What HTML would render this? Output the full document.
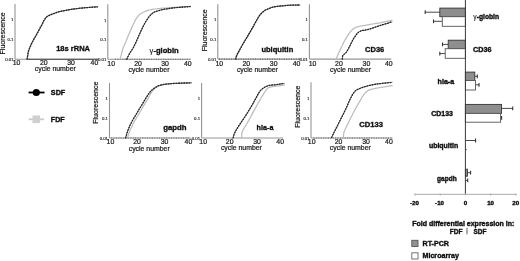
<!DOCTYPE html>
<html><head><meta charset="utf-8"><style>
html,body{margin:0;padding:0;background:#fff;width:520px;height:261px;overflow:hidden}
svg{display:block;will-change:transform}
text{font-family:"Liberation Sans", sans-serif}
</style></head><body>
<svg width="520" height="261" viewBox="0 0 520 261">
<defs><filter id="bl" x="0" y="0" width="1" height="1"><feGaussianBlur stdDeviation="0.35"/></filter></defs>
<rect width="520" height="261" fill="#fff"/>
<g filter="url(#bl)">
<rect width="520" height="261" fill="#fff"/>
<line x1="15.0" y1="4" x2="15.0" y2="59.2" stroke="#959595" stroke-width="1.1" />
<line x1="15.0" y1="59.2" x2="98.2" y2="59.2" stroke="#959595" stroke-width="1.1" />
<line x1="27" y1="59.2" x2="98.2" y2="59.2" stroke="#444" stroke-width="1.1" />
<text x="13.5" y="21.271428571428572" font-size="4.3" font-weight="normal" text-anchor="end" fill="#222" stroke="#222" stroke-width="0.15">1</text>
<text x="13.5" y="40.98571428571429" font-size="4.3" font-weight="normal" text-anchor="end" fill="#222" stroke="#222" stroke-width="0.15">0.1</text>
<text x="13.5" y="60.7" font-size="4.3" font-weight="normal" text-anchor="end" fill="#222" stroke="#222" stroke-width="0.15">0.01</text>
<text x="16.5" y="65.4" font-size="6.9" font-weight="normal" text-anchor="middle" fill="#1a1a1a" stroke="#1a1a1a" stroke-width="0.22">10</text>
<text x="43.8" y="65.4" font-size="6.9" font-weight="normal" text-anchor="middle" fill="#1a1a1a" stroke="#1a1a1a" stroke-width="0.22">20</text>
<text x="71" y="65.4" font-size="6.9" font-weight="normal" text-anchor="middle" fill="#1a1a1a" stroke="#1a1a1a" stroke-width="0.22">30</text>
<text x="94.4" y="65.4" font-size="6.9" font-weight="normal" text-anchor="middle" fill="#1a1a1a" stroke="#1a1a1a" stroke-width="0.22">40</text>
<text x="55.3" y="71.3" font-size="6.9" font-weight="normal" text-anchor="middle" fill="#1a1a1a" stroke="#1a1a1a" stroke-width="0.22">cycle number</text>
<text x="56.2" y="51.4" font-size="8.0" font-weight="bold" text-anchor="start" fill="#111" stroke="#111" stroke-width="0.35" textLength="33.8" lengthAdjust="spacingAndGlyphs">18s rRNA</text>
<text x="0" y="0" font-size="7.0" fill="#1a1a1a" stroke="#1a1a1a" stroke-width="0.22" text-anchor="middle" transform="translate(5.0,33.4) rotate(-90)">Fluorescence</text>
<polyline points="27.1,59.0 27.2,58.6 27.3,58.0 27.4,57.3 27.5,56.5 27.7,55.7 27.8,55.0 27.9,54.3 28.0,53.7 28.1,53.1 28.2,52.4 28.3,51.7 28.6,50.8 29.0,49.8 29.4,48.6 29.9,47.3 30.5,46.0 31.0,44.7 31.6,43.5 32.2,42.3 32.8,41.2 33.4,40.1 34.0,38.9 34.7,37.8 35.3,36.7 35.9,35.6 36.6,34.4 37.2,33.2 37.9,32.1 38.5,31.0 39.0,30.0 39.5,29.2 39.9,28.4 40.2,27.8 40.6,27.1 41.0,26.4 41.5,25.5 42.1,24.4 42.7,23.2 43.3,21.8 44.0,20.5 44.7,19.4 45.3,18.4 45.9,17.7 46.4,17.1 46.9,16.7 47.4,16.3 48.0,16.0 48.7,15.6 49.5,15.2 50.5,14.8 51.5,14.4 52.5,14.0 53.5,13.6 54.5,13.3 55.4,13.0 56.2,12.7 57.0,12.4 57.8,12.1 58.8,11.8 60.0,11.5 61.4,11.2 63.0,10.9 64.8,10.5 66.6,10.2 68.3,9.9 70.0,9.6 71.6,9.3 73.1,9.1 74.7,8.9 76.2,8.7 77.7,8.5 79.2,8.3 80.7,8.1 82.1,8.0 83.6,7.9 85.0,7.7 86.5,7.6 88.0,7.5 89.6,7.4 91.4,7.2 93.2,7.1 94.9,7.0 96.4,6.9 97.4,6.8" fill="none" stroke="#bcbcbc" stroke-width="1.25" stroke-linejoin="round" stroke-linecap="round" />
<polyline points="27.1,59.0 27.2,58.6 27.3,58.0 27.4,57.3 27.5,56.5 27.7,55.7 27.8,55.0 27.9,54.3 28.0,53.7 28.1,53.1 28.2,52.4 28.3,51.7 28.6,50.8 29.0,49.8 29.4,48.6 29.9,47.3 30.5,46.0 31.0,44.7 31.6,43.5 32.2,42.3 32.8,41.2 33.4,40.1 34.0,38.9 34.7,37.8 35.3,36.7 35.9,35.6 36.6,34.4 37.2,33.2 37.9,32.1 38.5,31.0 39.0,30.0 39.5,29.2 39.9,28.4 40.2,27.8 40.6,27.1 41.0,26.4 41.5,25.5 42.1,24.4 42.7,23.2 43.3,21.8 44.0,20.5 44.7,19.4 45.3,18.4 45.9,17.7 46.4,17.1 46.9,16.7 47.4,16.3 48.0,16.0 48.7,15.6 49.5,15.2 50.5,14.8 51.5,14.4 52.5,14.0 53.5,13.6 54.5,13.3 55.4,13.0 56.2,12.7 57.0,12.4 57.8,12.1 58.8,11.8 60.0,11.5 61.4,11.2 63.0,10.9 64.8,10.5 66.6,10.2 68.3,9.9 70.0,9.6 71.6,9.3 73.1,9.1 74.7,8.9 76.2,8.7 77.7,8.5 79.2,8.3 80.7,8.1 82.1,8.0 83.6,7.9 85.0,7.7 86.5,7.6 88.0,7.5 89.6,7.4 91.4,7.2 93.2,7.1 94.9,7.0 96.4,6.9 97.4,6.8" fill="none" stroke="#6a6a6a" stroke-width="0.85" stroke-linejoin="round" stroke-linecap="round" />
<polyline points="27.1,59.0 27.2,58.6 27.3,58.0 27.4,57.3 27.5,56.5 27.7,55.7 27.8,55.0 27.9,54.3 28.0,53.7 28.1,53.1 28.2,52.4 28.3,51.7 28.6,50.8 29.0,49.8 29.4,48.6 29.9,47.3 30.5,46.0 31.0,44.7 31.6,43.5 32.2,42.3 32.8,41.2 33.4,40.1 34.0,38.9 34.7,37.8 35.3,36.7 35.9,35.6 36.6,34.4 37.2,33.2 37.9,32.1 38.5,31.0 39.0,30.0 39.5,29.2 39.9,28.4 40.2,27.8 40.6,27.1 41.0,26.4 41.5,25.5 42.1,24.4 42.7,23.2 43.3,21.8 44.0,20.5 44.7,19.4 45.3,18.4 45.9,17.7 46.4,17.1 46.9,16.7 47.4,16.3 48.0,16.0 48.7,15.6 49.5,15.2 50.5,14.8 51.5,14.4 52.5,14.0 53.5,13.6 54.5,13.3 55.4,13.0 56.2,12.7 57.0,12.4 57.8,12.1 58.8,11.8 60.0,11.5 61.4,11.2 63.0,10.9 64.8,10.5 66.6,10.2 68.3,9.9 70.0,9.6 71.6,9.3 73.1,9.1 74.7,8.9 76.2,8.7 77.7,8.5 79.2,8.3 80.7,8.1 82.1,8.0 83.6,7.9 85.0,7.7 86.5,7.6 88.0,7.5 89.6,7.4 91.4,7.2 93.2,7.1 94.9,7.0 96.4,6.9 97.4,6.8" fill="none" stroke="#222" stroke-width="1.3" stroke-linejoin="round" stroke-linecap="round" stroke-dasharray="0.8 1.8"/>
<line x1="107.8" y1="4.3" x2="107.8" y2="59.3" stroke="#959595" stroke-width="1.1" />
<line x1="107.8" y1="59.3" x2="190.5" y2="59.3" stroke="#959595" stroke-width="1.1" />
<line x1="115" y1="59.3" x2="190.5" y2="59.3" stroke="#666" stroke-width="1.1" stroke-dasharray="1.1 1.3"/>
<text x="106.3" y="21.514285714285712" font-size="4.3" font-weight="normal" text-anchor="end" fill="#222" stroke="#222" stroke-width="0.15">1</text>
<text x="106.3" y="41.15714285714286" font-size="4.3" font-weight="normal" text-anchor="end" fill="#222" stroke="#222" stroke-width="0.15">0.1</text>
<text x="106.3" y="60.8" font-size="4.3" font-weight="normal" text-anchor="end" fill="#222" stroke="#222" stroke-width="0.15">0.01</text>
<text x="111.2" y="66.2" font-size="6.9" font-weight="normal" text-anchor="middle" fill="#1a1a1a" stroke="#1a1a1a" stroke-width="0.22">10</text>
<text x="138" y="66.2" font-size="6.9" font-weight="normal" text-anchor="middle" fill="#1a1a1a" stroke="#1a1a1a" stroke-width="0.22">20</text>
<text x="165" y="66.2" font-size="6.9" font-weight="normal" text-anchor="middle" fill="#1a1a1a" stroke="#1a1a1a" stroke-width="0.22">30</text>
<text x="187.8" y="66.2" font-size="6.9" font-weight="normal" text-anchor="middle" fill="#1a1a1a" stroke="#1a1a1a" stroke-width="0.22">40</text>
<text x="149" y="72.2" font-size="6.9" font-weight="normal" text-anchor="middle" fill="#1a1a1a" stroke="#1a1a1a" stroke-width="0.22">cycle number</text>
<text x="149.6" y="52.5" font-size="8.0" font-weight="bold" text-anchor="start" fill="#111" stroke="#111" stroke-width="0.35" textLength="29.1" lengthAdjust="spacingAndGlyphs"><tspan font-weight="normal" stroke-width="0.1">γ</tspan>-globin</text>
<polyline points="120.1,59.0 120.2,58.5 120.5,57.7 120.7,56.9 121.0,55.9 121.2,54.9 121.5,54.0 121.7,53.0 122.0,52.0 122.2,51.0 122.5,50.0 122.8,49.0 123.1,48.0 123.4,47.2 123.7,46.4 124.1,45.7 124.4,45.0 124.8,44.1 125.3,43.0 125.8,41.7 126.5,40.2 127.1,38.5 127.8,36.8 128.5,35.1 129.2,33.5 129.9,31.9 130.6,30.3 131.3,28.6 132.0,27.0 132.7,25.5 133.4,24.0 134.1,22.6 134.8,21.2 135.5,19.9 136.2,18.7 136.9,17.6 137.6,16.6 138.3,15.8 139.0,15.1 139.6,14.5 140.3,14.0 141.1,13.5 141.9,13.0 142.8,12.5 143.8,12.0 144.8,11.5 145.9,11.1 147.0,10.7 148.2,10.3 149.5,10.0 150.9,9.7 152.3,9.4 153.8,9.2 155.2,9.0 156.6,8.8 157.8,8.6 159.0,8.5 160.1,8.4 161.2,8.3 162.5,8.2 164.0,8.1 165.7,8.0 167.6,7.8 169.6,7.7 171.7,7.6 173.8,7.4 176.0,7.3 178.4,7.2 181.1,7.0 183.8,6.9 186.4,6.7 188.6,6.6 190.2,6.5" fill="none" stroke="#bcbcbc" stroke-width="1.25" stroke-linejoin="round" stroke-linecap="round" />
<polyline points="126.7,59.0 126.9,58.6 127.2,58.1 127.5,57.4 127.8,56.8 128.2,56.1 128.5,55.5 128.8,55.0 129.1,54.5 129.3,54.0 129.6,53.6 129.9,53.0 130.3,52.4 130.7,51.7 131.2,51.0 131.8,50.2 132.3,49.3 132.9,48.4 133.4,47.5 133.9,46.5 134.4,45.5 134.9,44.4 135.5,43.3 136.0,42.1 136.6,40.8 137.2,39.4 137.9,37.8 138.6,36.2 139.4,34.5 140.1,32.9 140.8,31.3 141.5,29.8 142.2,28.3 142.9,26.9 143.6,25.5 144.3,24.2 145.0,22.9 145.7,21.7 146.4,20.6 147.1,19.5 147.8,18.5 148.5,17.5 149.2,16.6 149.9,15.8 150.6,15.0 151.3,14.3 152.0,13.7 152.7,13.1 153.5,12.6 154.3,12.1 155.1,11.8 156.0,11.4 156.9,11.1 157.8,10.9 158.7,10.6 159.6,10.3 160.4,10.1 161.3,9.9 162.3,9.7 163.4,9.4 164.7,9.2 166.2,8.9 168.0,8.7 169.8,8.4 171.8,8.1 173.9,7.8 176.0,7.6 178.4,7.4 181.0,7.2 183.8,6.9 186.4,6.8 188.6,6.6 190.2,6.5" fill="none" stroke="#6a6a6a" stroke-width="0.85" stroke-linejoin="round" stroke-linecap="round" />
<polyline points="126.7,59.0 126.9,58.6 127.2,58.1 127.5,57.4 127.8,56.8 128.2,56.1 128.5,55.5 128.8,55.0 129.1,54.5 129.3,54.0 129.6,53.6 129.9,53.0 130.3,52.4 130.7,51.7 131.2,51.0 131.8,50.2 132.3,49.3 132.9,48.4 133.4,47.5 133.9,46.5 134.4,45.5 134.9,44.4 135.5,43.3 136.0,42.1 136.6,40.8 137.2,39.4 137.9,37.8 138.6,36.2 139.4,34.5 140.1,32.9 140.8,31.3 141.5,29.8 142.2,28.3 142.9,26.9 143.6,25.5 144.3,24.2 145.0,22.9 145.7,21.7 146.4,20.6 147.1,19.5 147.8,18.5 148.5,17.5 149.2,16.6 149.9,15.8 150.6,15.0 151.3,14.3 152.0,13.7 152.7,13.1 153.5,12.6 154.3,12.1 155.1,11.8 156.0,11.4 156.9,11.1 157.8,10.9 158.7,10.6 159.6,10.3 160.4,10.1 161.3,9.9 162.3,9.7 163.4,9.4 164.7,9.2 166.2,8.9 168.0,8.7 169.8,8.4 171.8,8.1 173.9,7.8 176.0,7.6 178.4,7.4 181.0,7.2 183.8,6.9 186.4,6.8 188.6,6.6 190.2,6.5" fill="none" stroke="#222" stroke-width="1.3" stroke-linejoin="round" stroke-linecap="round" stroke-dasharray="0.8 1.8"/>
<line x1="217.8" y1="4.2" x2="217.8" y2="59.1" stroke="#959595" stroke-width="1.1" />
<line x1="217.8" y1="59.1" x2="300.8" y2="59.1" stroke="#959595" stroke-width="1.1" />
<line x1="219" y1="59.1" x2="300.8" y2="59.1" stroke="#666" stroke-width="1.1" stroke-dasharray="1.1 1.3"/>
<text x="216.3" y="21.385714285714286" font-size="4.3" font-weight="normal" text-anchor="end" fill="#222" stroke="#222" stroke-width="0.15">1</text>
<text x="216.3" y="40.99285714285715" font-size="4.3" font-weight="normal" text-anchor="end" fill="#222" stroke="#222" stroke-width="0.15">0.1</text>
<text x="216.3" y="60.6" font-size="4.3" font-weight="normal" text-anchor="end" fill="#222" stroke="#222" stroke-width="0.15">0.01</text>
<text x="219.3" y="66.2" font-size="6.9" font-weight="normal" text-anchor="middle" fill="#1a1a1a" stroke="#1a1a1a" stroke-width="0.22">10</text>
<text x="246.3" y="66.2" font-size="6.9" font-weight="normal" text-anchor="middle" fill="#1a1a1a" stroke="#1a1a1a" stroke-width="0.22">20</text>
<text x="273.7" y="66.2" font-size="6.9" font-weight="normal" text-anchor="middle" fill="#1a1a1a" stroke="#1a1a1a" stroke-width="0.22">30</text>
<text x="296.6" y="66.2" font-size="6.9" font-weight="normal" text-anchor="middle" fill="#1a1a1a" stroke="#1a1a1a" stroke-width="0.22">40</text>
<text x="257.4" y="72.4" font-size="6.9" font-weight="normal" text-anchor="middle" fill="#1a1a1a" stroke="#1a1a1a" stroke-width="0.22">cycle number</text>
<text x="261.4" y="52.4" font-size="8.0" font-weight="bold" text-anchor="start" fill="#111" stroke="#111" stroke-width="0.35" textLength="31.9" lengthAdjust="spacingAndGlyphs">ubiquitin</text>
<text x="0" y="0" font-size="7.0" fill="#1a1a1a" stroke="#1a1a1a" stroke-width="0.22" text-anchor="middle" transform="translate(206.9,30.25) rotate(-90)">Fluorescence</text>
<polyline points="235.7,59.0 235.8,58.7 235.9,58.2 236.0,57.7 236.2,57.1 236.3,56.5 236.5,56.0 236.7,55.6 236.8,55.2 236.9,54.9 237.2,54.5 237.5,53.8 238.0,52.9 238.7,51.6 239.6,50.0 240.6,48.2 241.6,46.3 242.7,44.4 243.8,42.5 244.9,40.6 246.1,38.7 247.3,36.7 248.4,34.8 249.6,32.9 250.7,31.0 251.7,29.2 252.8,27.3 253.8,25.5 254.7,23.7 255.6,22.1 256.4,20.7 257.1,19.5 257.7,18.4 258.2,17.5 258.7,16.6 259.3,15.8 259.9,15.0 260.6,14.2 261.3,13.4 262.0,12.7 262.8,12.0 263.6,11.4 264.3,10.8 265.0,10.3 265.7,9.9 266.5,9.6 267.2,9.3 267.9,9.0 268.7,8.7 269.5,8.4 270.2,8.0 271.0,7.7 271.9,7.4 272.8,7.2 273.8,6.9 274.9,6.7 276.2,6.5 277.5,6.3 278.8,6.2 280.2,6.0 281.6,5.9 283.0,5.8 284.4,5.6 285.8,5.5 287.3,5.4 288.8,5.3 290.3,5.2 291.9,5.1 293.8,5.1 295.6,5.1 297.3,5.0 298.8,5.0 299.8,5.0" fill="none" stroke="#bcbcbc" stroke-width="1.25" stroke-linejoin="round" stroke-linecap="round" />
<polyline points="235.7,59.0 235.8,58.7 235.9,58.2 236.0,57.7 236.2,57.1 236.3,56.5 236.5,56.0 236.7,55.6 236.8,55.2 236.9,54.9 237.2,54.5 237.5,53.8 238.0,52.9 238.7,51.6 239.6,50.0 240.6,48.2 241.6,46.3 242.7,44.4 243.8,42.5 244.9,40.6 246.1,38.7 247.3,36.7 248.4,34.8 249.6,32.9 250.7,31.0 251.7,29.2 252.8,27.3 253.8,25.5 254.7,23.7 255.6,22.1 256.4,20.7 257.1,19.5 257.7,18.4 258.2,17.5 258.7,16.6 259.3,15.8 259.9,15.0 260.6,14.2 261.3,13.4 262.0,12.7 262.8,12.0 263.6,11.4 264.3,10.8 265.0,10.3 265.7,9.9 266.5,9.6 267.2,9.3 267.9,9.0 268.7,8.7 269.5,8.4 270.2,8.0 271.0,7.7 271.9,7.4 272.8,7.2 273.8,6.9 274.9,6.7 276.2,6.5 277.5,6.3 278.8,6.2 280.2,6.0 281.6,5.9 283.0,5.8 284.4,5.6 285.8,5.5 287.3,5.4 288.8,5.3 290.3,5.2 291.9,5.1 293.8,5.1 295.6,5.1 297.3,5.0 298.8,5.0 299.8,5.0" fill="none" stroke="#6a6a6a" stroke-width="0.85" stroke-linejoin="round" stroke-linecap="round" />
<polyline points="235.7,59.0 235.8,58.7 235.9,58.2 236.0,57.7 236.2,57.1 236.3,56.5 236.5,56.0 236.7,55.6 236.8,55.2 236.9,54.9 237.2,54.5 237.5,53.8 238.0,52.9 238.7,51.6 239.6,50.0 240.6,48.2 241.6,46.3 242.7,44.4 243.8,42.5 244.9,40.6 246.1,38.7 247.3,36.7 248.4,34.8 249.6,32.9 250.7,31.0 251.7,29.2 252.8,27.3 253.8,25.5 254.7,23.7 255.6,22.1 256.4,20.7 257.1,19.5 257.7,18.4 258.2,17.5 258.7,16.6 259.3,15.8 259.9,15.0 260.6,14.2 261.3,13.4 262.0,12.7 262.8,12.0 263.6,11.4 264.3,10.8 265.0,10.3 265.7,9.9 266.5,9.6 267.2,9.3 267.9,9.0 268.7,8.7 269.5,8.4 270.2,8.0 271.0,7.7 271.9,7.4 272.8,7.2 273.8,6.9 274.9,6.7 276.2,6.5 277.5,6.3 278.8,6.2 280.2,6.0 281.6,5.9 283.0,5.8 284.4,5.6 285.8,5.5 287.3,5.4 288.8,5.3 290.3,5.2 291.9,5.1 293.8,5.1 295.6,5.1 297.3,5.0 298.8,5.0 299.8,5.0" fill="none" stroke="#222" stroke-width="1.3" stroke-linejoin="round" stroke-linecap="round" stroke-dasharray="0.8 1.8"/>
<line x1="309.4" y1="4.2" x2="309.4" y2="59.1" stroke="#959595" stroke-width="1.1" />
<line x1="309.4" y1="59.1" x2="391.3" y2="59.1" stroke="#959595" stroke-width="1.1" />
<text x="307.9" y="21.385714285714286" font-size="4.3" font-weight="normal" text-anchor="end" fill="#222" stroke="#222" stroke-width="0.15">1</text>
<text x="307.9" y="40.99285714285715" font-size="4.3" font-weight="normal" text-anchor="end" fill="#222" stroke="#222" stroke-width="0.15">0.1</text>
<text x="307.9" y="60.6" font-size="4.3" font-weight="normal" text-anchor="end" fill="#222" stroke="#222" stroke-width="0.15">0.01</text>
<text x="312.5" y="66.2" font-size="6.9" font-weight="normal" text-anchor="middle" fill="#1a1a1a" stroke="#1a1a1a" stroke-width="0.22">10</text>
<text x="338.9" y="66.2" font-size="6.9" font-weight="normal" text-anchor="middle" fill="#1a1a1a" stroke="#1a1a1a" stroke-width="0.22">20</text>
<text x="366.4" y="66.2" font-size="6.9" font-weight="normal" text-anchor="middle" fill="#1a1a1a" stroke="#1a1a1a" stroke-width="0.22">30</text>
<text x="388.8" y="66.2" font-size="6.9" font-weight="normal" text-anchor="middle" fill="#1a1a1a" stroke="#1a1a1a" stroke-width="0.22">40</text>
<text x="350.6" y="72.4" font-size="6.9" font-weight="normal" text-anchor="middle" fill="#1a1a1a" stroke="#1a1a1a" stroke-width="0.22">cycle number</text>
<text x="365.1" y="51.5" font-size="8.0" font-weight="bold" text-anchor="start" fill="#111" stroke="#111" stroke-width="0.35" textLength="19.2" lengthAdjust="spacingAndGlyphs">CD36</text>
<polyline points="336.0,59.0 336.5,58.0 337.1,56.6 337.8,54.9 338.6,53.1 339.5,51.2 340.3,49.5 341.1,47.8 342.0,46.0 342.8,44.2 343.7,42.4 344.6,40.7 345.5,39.1 346.4,37.6 347.3,36.2 348.2,34.8 349.0,33.6 349.9,32.4 350.7,31.4 351.5,30.6 352.2,29.9 352.9,29.3 353.5,28.8 354.2,28.3 355.0,27.9 355.8,27.5 356.5,27.2 357.3,26.9 358.1,26.7 359.1,26.5 360.2,26.2 361.5,25.9 363.0,25.6 364.6,25.4 366.3,25.1 368.0,24.8 369.7,24.5 371.4,24.2 373.0,24.0 374.7,23.7 376.4,23.4 378.2,23.1 380.0,22.8 382.0,22.4 384.3,21.9 386.6,21.4 388.8,20.9 390.7,20.5 392.0,20.2" fill="none" stroke="#bcbcbc" stroke-width="1.25" stroke-linejoin="round" stroke-linecap="round" />
<polyline points="342.4,59.0 342.4,58.6 342.4,58.1 342.4,57.5 342.5,56.8 342.6,56.1 342.9,55.5 343.3,55.0 343.8,54.5 344.5,54.0 345.1,53.4 345.8,52.8 346.4,52.1 347.0,51.2 347.5,50.3 348.1,49.3 348.7,48.2 349.2,47.1 349.8,46.0 350.4,44.9 350.9,43.7 351.5,42.5 352.1,41.4 352.7,40.2 353.3,39.1 354.0,38.0 354.7,36.9 355.5,35.8 356.2,34.8 356.9,33.9 357.6,33.1 358.2,32.5 358.7,32.0 359.2,31.7 359.7,31.4 360.3,31.2 361.0,30.9 361.9,30.6 362.8,30.4 363.9,30.3 365.0,30.1 366.1,29.9 367.1,29.7 368.1,29.4 369.0,29.2 369.9,28.9 370.9,28.6 372.0,28.3 373.1,27.9 374.4,27.5 375.7,27.0 377.1,26.5 378.6,26.0 380.1,25.5 381.7,25.0 383.4,24.5 385.4,23.9 387.4,23.3 389.3,22.7 390.9,22.2 392.0,21.9" fill="none" stroke="#6a6a6a" stroke-width="0.85" stroke-linejoin="round" stroke-linecap="round" />
<polyline points="342.4,59.0 342.4,58.6 342.4,58.1 342.4,57.5 342.5,56.8 342.6,56.1 342.9,55.5 343.3,55.0 343.8,54.5 344.5,54.0 345.1,53.4 345.8,52.8 346.4,52.1 347.0,51.2 347.5,50.3 348.1,49.3 348.7,48.2 349.2,47.1 349.8,46.0 350.4,44.9 350.9,43.7 351.5,42.5 352.1,41.4 352.7,40.2 353.3,39.1 354.0,38.0 354.7,36.9 355.5,35.8 356.2,34.8 356.9,33.9 357.6,33.1 358.2,32.5 358.7,32.0 359.2,31.7 359.7,31.4 360.3,31.2 361.0,30.9 361.9,30.6 362.8,30.4 363.9,30.3 365.0,30.1 366.1,29.9 367.1,29.7 368.1,29.4 369.0,29.2 369.9,28.9 370.9,28.6 372.0,28.3 373.1,27.9 374.4,27.5 375.7,27.0 377.1,26.5 378.6,26.0 380.1,25.5 381.7,25.0 383.4,24.5 385.4,23.9 387.4,23.3 389.3,22.7 390.9,22.2 392.0,21.9" fill="none" stroke="#222" stroke-width="1.3" stroke-linejoin="round" stroke-linecap="round" stroke-dasharray="0.8 1.8"/>
<line x1="109.5" y1="83" x2="109.5" y2="138.0" stroke="#959595" stroke-width="1.1" />
<line x1="109.5" y1="138.0" x2="190.5" y2="138.0" stroke="#959595" stroke-width="1.1" />
<line x1="111" y1="138.0" x2="190.5" y2="138.0" stroke="#666" stroke-width="1.1" stroke-dasharray="1.1 1.3"/>
<text x="108.0" y="100.21428571428572" font-size="4.3" font-weight="normal" text-anchor="end" fill="#222" stroke="#222" stroke-width="0.15">1</text>
<text x="108.0" y="119.85714285714286" font-size="4.3" font-weight="normal" text-anchor="end" fill="#222" stroke="#222" stroke-width="0.15">0.1</text>
<text x="108.0" y="139.5" font-size="4.3" font-weight="normal" text-anchor="end" fill="#222" stroke="#222" stroke-width="0.15">0.01</text>
<text x="110.4" y="144.3" font-size="6.9" font-weight="normal" text-anchor="middle" fill="#1a1a1a" stroke="#1a1a1a" stroke-width="0.22">10</text>
<text x="137.1" y="144.3" font-size="6.9" font-weight="normal" text-anchor="middle" fill="#1a1a1a" stroke="#1a1a1a" stroke-width="0.22">20</text>
<text x="164.6" y="144.3" font-size="6.9" font-weight="normal" text-anchor="middle" fill="#1a1a1a" stroke="#1a1a1a" stroke-width="0.22">30</text>
<text x="188.4" y="144.3" font-size="6.9" font-weight="normal" text-anchor="middle" fill="#1a1a1a" stroke="#1a1a1a" stroke-width="0.22">40</text>
<text x="149.2" y="150.5" font-size="6.9" font-weight="normal" text-anchor="middle" fill="#1a1a1a" stroke="#1a1a1a" stroke-width="0.22">cycle number</text>
<text x="163.2" y="129.8" font-size="8.0" font-weight="bold" text-anchor="start" fill="#111" stroke="#111" stroke-width="0.35" textLength="23.4" lengthAdjust="spacingAndGlyphs">gapdh</text>
<text x="0" y="0" font-size="7.0" fill="#1a1a1a" stroke="#1a1a1a" stroke-width="0.22" text-anchor="middle" transform="translate(98.3,102.7) rotate(-90)">Fluorescence</text>
<polyline points="127.6,137.8 127.7,137.3 127.9,136.6 128.1,135.8 128.4,134.9 128.7,133.9 129.0,133.0 129.3,132.1 129.7,131.1 130.1,130.2 130.6,129.2 131.0,128.1 131.5,127.1 132.0,126.0 132.6,124.9 133.1,123.8 133.7,122.7 134.3,121.6 134.9,120.5 135.5,119.5 136.1,118.4 136.7,117.4 137.3,116.5 137.9,115.5 138.5,114.5 139.1,113.5 139.6,112.5 140.2,111.6 140.8,110.6 141.3,109.7 141.9,108.7 142.5,107.7 143.1,106.8 143.6,105.8 144.2,104.8 144.8,103.9 145.3,103.0 145.8,102.1 146.3,101.3 146.8,100.4 147.3,99.6 147.8,98.8 148.2,98.0 148.6,97.2 149.0,96.5 149.4,95.8 149.7,95.1 150.1,94.5 150.5,93.8 150.9,93.1 151.4,92.5 151.8,91.8 152.3,91.2 152.8,90.6 153.3,90.0 153.9,89.4 154.5,88.9 155.1,88.3 155.8,87.8 156.4,87.3 157.0,86.9 157.5,86.6 157.9,86.3 158.3,86.0 158.7,85.8 159.3,85.6 160.0,85.4 160.9,85.2 161.8,84.9 162.9,84.7 164.1,84.4 165.4,84.2 167.0,84.0 168.8,83.8 170.9,83.7 173.2,83.5 175.6,83.4 177.9,83.3 180.0,83.2 182.1,83.1 184.4,83.0 186.6,83.0 188.6,82.9 190.3,82.8 191.5,82.8" fill="none" stroke="#bcbcbc" stroke-width="1.25" stroke-linejoin="round" stroke-linecap="round" />
<polyline points="125.7,137.8 125.8,137.3 126.0,136.6 126.2,135.8 126.5,134.9 126.7,133.9 127.0,133.0 127.3,132.1 127.6,131.1 128.0,130.2 128.4,129.2 128.8,128.1 129.2,127.1 129.7,126.0 130.2,124.9 130.8,123.8 131.3,122.7 131.9,121.6 132.5,120.5 133.1,119.5 133.7,118.4 134.3,117.4 134.9,116.5 135.5,115.5 136.1,114.5 136.7,113.5 137.2,112.5 137.8,111.6 138.4,110.6 138.9,109.7 139.5,108.7 140.1,107.7 140.7,106.8 141.3,105.8 141.9,104.8 142.4,103.9 143.0,103.0 143.5,102.1 144.0,101.3 144.5,100.4 145.0,99.6 145.5,98.8 146.0,98.0 146.5,97.3 146.9,96.5 147.3,95.8 147.8,95.2 148.2,94.5 148.7,93.8 149.2,93.1 149.8,92.4 150.3,91.7 150.9,91.0 151.5,90.3 152.2,89.7 152.9,89.1 153.7,88.5 154.5,88.0 155.3,87.5 156.1,87.0 156.8,86.6 157.4,86.3 157.8,86.0 158.2,85.8 158.7,85.7 159.3,85.5 160.0,85.3 160.9,85.1 161.8,84.8 162.9,84.6 164.1,84.4 165.4,84.2 167.0,84.0 168.8,83.8 170.9,83.7 173.2,83.5 175.6,83.4 177.9,83.3 180.0,83.2 182.1,83.1 184.4,83.0 186.6,83.0 188.6,82.9 190.3,82.8 191.5,82.8" fill="none" stroke="#6a6a6a" stroke-width="0.85" stroke-linejoin="round" stroke-linecap="round" />
<polyline points="125.7,137.8 125.8,137.3 126.0,136.6 126.2,135.8 126.5,134.9 126.7,133.9 127.0,133.0 127.3,132.1 127.6,131.1 128.0,130.2 128.4,129.2 128.8,128.1 129.2,127.1 129.7,126.0 130.2,124.9 130.8,123.8 131.3,122.7 131.9,121.6 132.5,120.5 133.1,119.5 133.7,118.4 134.3,117.4 134.9,116.5 135.5,115.5 136.1,114.5 136.7,113.5 137.2,112.5 137.8,111.6 138.4,110.6 138.9,109.7 139.5,108.7 140.1,107.7 140.7,106.8 141.3,105.8 141.9,104.8 142.4,103.9 143.0,103.0 143.5,102.1 144.0,101.3 144.5,100.4 145.0,99.6 145.5,98.8 146.0,98.0 146.5,97.3 146.9,96.5 147.3,95.8 147.8,95.2 148.2,94.5 148.7,93.8 149.2,93.1 149.8,92.4 150.3,91.7 150.9,91.0 151.5,90.3 152.2,89.7 152.9,89.1 153.7,88.5 154.5,88.0 155.3,87.5 156.1,87.0 156.8,86.6 157.4,86.3 157.8,86.0 158.2,85.8 158.7,85.7 159.3,85.5 160.0,85.3 160.9,85.1 161.8,84.8 162.9,84.6 164.1,84.4 165.4,84.2 167.0,84.0 168.8,83.8 170.9,83.7 173.2,83.5 175.6,83.4 177.9,83.3 180.0,83.2 182.1,83.1 184.4,83.0 186.6,83.0 188.6,82.9 190.3,82.8 191.5,82.8" fill="none" stroke="#222" stroke-width="1.3" stroke-linejoin="round" stroke-linecap="round" stroke-dasharray="0.8 1.8"/>
<line x1="201.6" y1="83" x2="201.6" y2="138.0" stroke="#959595" stroke-width="1.1" />
<line x1="201.6" y1="138.0" x2="283.1" y2="138.0" stroke="#959595" stroke-width="1.1" />
<text x="200.1" y="100.21428571428572" font-size="4.3" font-weight="normal" text-anchor="end" fill="#222" stroke="#222" stroke-width="0.15">1</text>
<text x="200.1" y="119.85714285714286" font-size="4.3" font-weight="normal" text-anchor="end" fill="#222" stroke="#222" stroke-width="0.15">0.1</text>
<text x="200.1" y="139.5" font-size="4.3" font-weight="normal" text-anchor="end" fill="#222" stroke="#222" stroke-width="0.15">0.01</text>
<text x="203.2" y="144.1" font-size="6.9" font-weight="normal" text-anchor="middle" fill="#1a1a1a" stroke="#1a1a1a" stroke-width="0.22">10</text>
<text x="229.7" y="144.1" font-size="6.9" font-weight="normal" text-anchor="middle" fill="#1a1a1a" stroke="#1a1a1a" stroke-width="0.22">20</text>
<text x="257" y="144.1" font-size="6.9" font-weight="normal" text-anchor="middle" fill="#1a1a1a" stroke="#1a1a1a" stroke-width="0.22">30</text>
<text x="280.2" y="144.1" font-size="6.9" font-weight="normal" text-anchor="middle" fill="#1a1a1a" stroke="#1a1a1a" stroke-width="0.22">40</text>
<text x="241.4" y="149.8" font-size="6.9" font-weight="normal" text-anchor="middle" fill="#1a1a1a" stroke="#1a1a1a" stroke-width="0.22">cycle number</text>
<text x="256.6" y="130.4" font-size="8.0" font-weight="bold" text-anchor="start" fill="#111" stroke="#111" stroke-width="0.35" textLength="16.8" lengthAdjust="spacingAndGlyphs">hla-a</text>
<polyline points="241.8,137.8 241.8,137.2 241.8,136.3 241.7,135.3 241.8,134.2 241.9,133.0 242.3,131.7 242.9,130.4 243.6,129.0 244.5,127.5 245.5,125.9 246.5,124.3 247.5,122.5 248.6,120.6 249.7,118.5 250.9,116.3 252.1,114.1 253.3,111.9 254.4,109.9 255.4,108.0 256.4,106.2 257.4,104.5 258.3,102.8 259.3,101.1 260.2,99.5 261.2,97.8 262.2,96.1 263.2,94.4 264.2,92.9 265.1,91.5 265.9,90.3 266.6,89.4 267.1,88.8 267.6,88.3 268.1,88.0 268.6,87.7 269.4,87.4 270.3,87.1 271.4,86.9 272.6,86.7 273.8,86.5 275.0,86.4 276.3,86.2 277.7,86.0 279.2,85.8 280.7,85.6 282.2,85.4 283.4,85.2 284.3,85.1" fill="none" stroke="#bcbcbc" stroke-width="1.25" stroke-linejoin="round" stroke-linecap="round" />
<polyline points="233.1,137.8 233.3,137.2 233.5,136.5 233.7,135.6 234.0,134.6 234.4,133.5 234.9,132.4 235.5,131.3 236.1,130.1 236.9,128.9 237.7,127.6 238.6,126.2 239.5,124.8 240.5,123.3 241.6,121.6 242.8,119.9 244.0,118.1 245.2,116.3 246.4,114.5 247.6,112.6 248.7,110.7 249.9,108.8 251.1,106.8 252.2,104.9 253.3,103.0 254.3,101.1 255.4,99.2 256.4,97.3 257.3,95.5 258.2,93.9 259.0,92.6 259.7,91.6 260.2,90.8 260.8,90.2 261.3,89.7 261.8,89.2 262.5,88.7 263.3,88.1 264.1,87.6 265.1,87.0 266.0,86.5 267.1,86.1 268.2,85.7 269.4,85.4 270.7,85.2 272.1,85.0 273.5,84.9 274.9,84.8 276.3,84.6 277.7,84.4 279.3,84.2 280.8,83.9 282.2,83.7 283.4,83.5 284.3,83.4" fill="none" stroke="#6a6a6a" stroke-width="0.85" stroke-linejoin="round" stroke-linecap="round" />
<polyline points="233.1,137.8 233.3,137.2 233.5,136.5 233.7,135.6 234.0,134.6 234.4,133.5 234.9,132.4 235.5,131.3 236.1,130.1 236.9,128.9 237.7,127.6 238.6,126.2 239.5,124.8 240.5,123.3 241.6,121.6 242.8,119.9 244.0,118.1 245.2,116.3 246.4,114.5 247.6,112.6 248.7,110.7 249.9,108.8 251.1,106.8 252.2,104.9 253.3,103.0 254.3,101.1 255.4,99.2 256.4,97.3 257.3,95.5 258.2,93.9 259.0,92.6 259.7,91.6 260.2,90.8 260.8,90.2 261.3,89.7 261.8,89.2 262.5,88.7 263.3,88.1 264.1,87.6 265.1,87.0 266.0,86.5 267.1,86.1 268.2,85.7 269.4,85.4 270.7,85.2 272.1,85.0 273.5,84.9 274.9,84.8 276.3,84.6 277.7,84.4 279.3,84.2 280.8,83.9 282.2,83.7 283.4,83.5 284.3,83.4" fill="none" stroke="#222" stroke-width="1.3" stroke-linejoin="round" stroke-linecap="round" stroke-dasharray="0.8 1.8"/>
<line x1="311.0" y1="82.3" x2="311.0" y2="138.0" stroke="#959595" stroke-width="1.1" />
<line x1="311.0" y1="138.0" x2="392.6" y2="138.0" stroke="#959595" stroke-width="1.1" />
<line x1="313.5" y1="138.0" x2="392.6" y2="138.0" stroke="#666" stroke-width="1.1" stroke-dasharray="1.1 1.3"/>
<text x="309.5" y="99.71428571428571" font-size="4.3" font-weight="normal" text-anchor="end" fill="#222" stroke="#222" stroke-width="0.15">1</text>
<text x="309.5" y="119.60714285714286" font-size="4.3" font-weight="normal" text-anchor="end" fill="#222" stroke="#222" stroke-width="0.15">0.1</text>
<text x="309.5" y="139.5" font-size="4.3" font-weight="normal" text-anchor="end" fill="#222" stroke="#222" stroke-width="0.15">0.01</text>
<text x="311.7" y="144.4" font-size="6.9" font-weight="normal" text-anchor="middle" fill="#1a1a1a" stroke="#1a1a1a" stroke-width="0.22">10</text>
<text x="338.6" y="144.4" font-size="6.9" font-weight="normal" text-anchor="middle" fill="#1a1a1a" stroke="#1a1a1a" stroke-width="0.22">20</text>
<text x="366.1" y="144.4" font-size="6.9" font-weight="normal" text-anchor="middle" fill="#1a1a1a" stroke="#1a1a1a" stroke-width="0.22">30</text>
<text x="388.9" y="144.4" font-size="6.9" font-weight="normal" text-anchor="middle" fill="#1a1a1a" stroke="#1a1a1a" stroke-width="0.22">40</text>
<text x="350.3" y="150.4" font-size="6.9" font-weight="normal" text-anchor="middle" fill="#1a1a1a" stroke="#1a1a1a" stroke-width="0.22">cycle number</text>
<text x="359.2" y="126.8" font-size="8.0" font-weight="bold" text-anchor="start" fill="#111" stroke="#111" stroke-width="0.35" textLength="23.7" lengthAdjust="spacingAndGlyphs">CD133</text>
<text x="0" y="0" font-size="7.0" fill="#1a1a1a" stroke="#1a1a1a" stroke-width="0.22" text-anchor="middle" transform="translate(300.2,106.7) rotate(-90)">Fluorescence</text>
<polyline points="343.4,137.4 343.4,136.8 343.5,136.0 343.5,135.0 343.7,133.9 343.9,132.7 344.2,131.5 344.7,130.3 345.2,129.0 345.9,127.7 346.6,126.2 347.4,124.7 348.2,123.1 349.1,121.3 350.0,119.4 351.0,117.3 352.1,115.3 353.1,113.2 354.1,111.3 355.1,109.4 356.1,107.5 357.2,105.7 358.2,103.9 359.2,102.2 360.1,100.6 361.0,99.2 361.8,97.8 362.5,96.5 363.3,95.4 364.0,94.3 364.8,93.4 365.5,92.6 366.2,91.9 366.8,91.4 367.6,90.8 368.5,90.4 369.6,89.9 371.0,89.4 372.7,89.0 374.5,88.6 376.4,88.2 378.4,87.9 380.3,87.5 382.3,87.1 384.6,86.8 386.9,86.4 389.0,86.1 390.8,85.8 392.1,85.6" fill="none" stroke="#bcbcbc" stroke-width="1.25" stroke-linejoin="round" stroke-linecap="round" />
<polyline points="331.6,137.4 332.0,136.7 332.5,135.6 333.1,134.4 333.7,133.1 334.4,131.7 335.1,130.3 335.8,128.9 336.6,127.4 337.4,125.9 338.2,124.2 339.0,122.6 339.9,120.8 340.8,118.9 341.8,117.0 342.9,114.9 343.9,112.9 344.9,110.8 345.8,108.9 346.7,107.0 347.5,105.1 348.4,103.2 349.1,101.4 349.9,99.7 350.6,98.2 351.3,96.9 351.9,95.8 352.4,94.8 353.0,93.9 353.5,93.1 354.1,92.3 354.6,91.6 355.1,91.1 355.6,90.7 356.1,90.3 356.8,89.9 357.7,89.4 358.8,88.9 360.0,88.4 361.3,87.8 362.8,87.3 364.4,86.8 366.0,86.3 367.7,85.9 369.6,85.4 371.6,85.0 373.6,84.6 375.7,84.2 377.9,83.9 380.3,83.6 383.0,83.2 385.7,83.0 388.3,82.7 390.5,82.5 392.1,82.3" fill="none" stroke="#6a6a6a" stroke-width="0.85" stroke-linejoin="round" stroke-linecap="round" />
<polyline points="331.6,137.4 332.0,136.7 332.5,135.6 333.1,134.4 333.7,133.1 334.4,131.7 335.1,130.3 335.8,128.9 336.6,127.4 337.4,125.9 338.2,124.2 339.0,122.6 339.9,120.8 340.8,118.9 341.8,117.0 342.9,114.9 343.9,112.9 344.9,110.8 345.8,108.9 346.7,107.0 347.5,105.1 348.4,103.2 349.1,101.4 349.9,99.7 350.6,98.2 351.3,96.9 351.9,95.8 352.4,94.8 353.0,93.9 353.5,93.1 354.1,92.3 354.6,91.6 355.1,91.1 355.6,90.7 356.1,90.3 356.8,89.9 357.7,89.4 358.8,88.9 360.0,88.4 361.3,87.8 362.8,87.3 364.4,86.8 366.0,86.3 367.7,85.9 369.6,85.4 371.6,85.0 373.6,84.6 375.7,84.2 377.9,83.9 380.3,83.6 383.0,83.2 385.7,83.0 388.3,82.7 390.5,82.5 392.1,82.3" fill="none" stroke="#222" stroke-width="1.3" stroke-linejoin="round" stroke-linecap="round" stroke-dasharray="0.8 1.8"/>
<line x1="28.6" y1="92.5" x2="44.5" y2="92.5" stroke="#000" stroke-width="1.8" />
<circle cx="36.3" cy="92.5" r="3.6" fill="#000"/>
<text x="50.8" y="94.6" font-size="7.8" font-weight="bold" text-anchor="start" fill="#111" stroke="#111" stroke-width="0.4" textLength="14.5" lengthAdjust="spacingAndGlyphs">SDF</text>
<line x1="28.6" y1="119.3" x2="44.0" y2="119.3" stroke="#ccc" stroke-width="1.8" />
<rect x="32.5" y="115.5" width="7.6" height="7.6" fill="#cfcfcf"/>
<text x="50.8" y="122.1" font-size="7.8" font-weight="bold" text-anchor="start" fill="#111" stroke="#111" stroke-width="0.4" textLength="13.8" lengthAdjust="spacingAndGlyphs">FDF</text>
<line x1="439.8" y1="12.2" x2="425.2" y2="12.2" stroke="#333" stroke-width="0.9" />
<line x1="425.2" y1="10.299999999999999" x2="425.2" y2="14.1" stroke="#333" stroke-width="1.1" />
<rect x="439.8" y="8.1" width="25.599999999999966" height="8.6" fill="#8e8e8e" stroke="#333" stroke-width="0.9"/>
<line x1="442.3" y1="21.3" x2="433.5" y2="21.3" stroke="#333" stroke-width="0.9" />
<line x1="433.5" y1="19.400000000000002" x2="433.5" y2="23.2" stroke="#333" stroke-width="1.1" />
<rect x="442.3" y="16.7" width="23.099999999999966" height="9.600000000000001" fill="#fff" stroke="#555" stroke-width="0.9"/>
<line x1="448.2" y1="44.4" x2="442.5" y2="44.4" stroke="#333" stroke-width="0.9" />
<line x1="442.5" y1="42.5" x2="442.5" y2="46.3" stroke="#333" stroke-width="1.1" />
<rect x="448.2" y="40.2" width="17.19999999999999" height="8.5" fill="#8e8e8e" stroke="#333" stroke-width="0.9"/>
<line x1="445.2" y1="53.6" x2="439.8" y2="53.6" stroke="#333" stroke-width="0.9" />
<line x1="439.8" y1="51.7" x2="439.8" y2="55.5" stroke="#333" stroke-width="1.1" />
<rect x="445.2" y="48.7" width="20.19999999999999" height="9.599999999999994" fill="#fff" stroke="#555" stroke-width="0.9"/>
<line x1="474.8" y1="76.3" x2="477.3" y2="76.3" stroke="#333" stroke-width="0.9" />
<line x1="477.3" y1="74.39999999999999" x2="477.3" y2="78.2" stroke="#333" stroke-width="1.1" />
<rect x="465.4" y="72.1" width="9.400000000000034" height="8.400000000000006" fill="#8e8e8e" stroke="#333" stroke-width="0.9"/>
<line x1="475.5" y1="84.8" x2="479.0" y2="84.8" stroke="#333" stroke-width="0.9" />
<line x1="479.0" y1="82.89999999999999" x2="479.0" y2="86.7" stroke="#333" stroke-width="1.1" />
<rect x="465.4" y="80.5" width="10.100000000000023" height="9.5" fill="#fff" stroke="#555" stroke-width="0.9"/>
<line x1="501.5" y1="108.4" x2="512.7" y2="108.4" stroke="#333" stroke-width="0.9" />
<line x1="512.7" y1="106.5" x2="512.7" y2="110.30000000000001" stroke="#333" stroke-width="1.1" />
<rect x="465.4" y="104.4" width="36.10000000000002" height="9.0" fill="#8e8e8e" stroke="#333" stroke-width="0.9"/>
<line x1="500.6" y1="117.8" x2="501.6" y2="117.8" stroke="#333" stroke-width="0.9" />
<line x1="501.6" y1="115.89999999999999" x2="501.6" y2="119.7" stroke="#333" stroke-width="1.1" />
<rect x="465.4" y="113.4" width="35.200000000000045" height="8.799999999999997" fill="#fff" stroke="#555" stroke-width="0.9"/>
<line x1="465.4" y1="140.5" x2="475.6" y2="140.5" stroke="#333" stroke-width="0.9" />
<line x1="475.6" y1="138.6" x2="475.6" y2="142.4" stroke="#333" stroke-width="1.1" />
<line x1="465.4" y1="149.6" x2="466.7" y2="149.6" stroke="#333" stroke-width="0.9" />
<rect x="465.4" y="169.2" width="2.0" height="7.0" fill="#8e8e8e" stroke="#333" stroke-width="0.9"/>
<line x1="467.4" y1="172.7" x2="470.6" y2="172.7" stroke="#333" stroke-width="0.9" />
<line x1="470.6" y1="170.79999999999998" x2="470.6" y2="174.6" stroke="#333" stroke-width="1.1" />
<line x1="465.4" y1="180.3" x2="467.7" y2="180.3" stroke="#333" stroke-width="0.9" />
<line x1="467.7" y1="178.4" x2="467.7" y2="182.20000000000002" stroke="#333" stroke-width="1.1" />
<line x1="465.4" y1="0" x2="465.4" y2="194.3" stroke="#3a3a3a" stroke-width="1.0" />
<line x1="414.3" y1="194.3" x2="516.7" y2="194.3" stroke="#aaa" stroke-width="1.0" />
<line x1="415.0" y1="193.6" x2="415.0" y2="195.6" stroke="#aaa" stroke-width="0.9" />
<text x="414.4" y="204.6" font-size="6.2" font-weight="bold" text-anchor="middle" fill="#1a1a1a" stroke="#111" stroke-width="0.4">-20</text>
<line x1="440.2" y1="193.6" x2="440.2" y2="195.6" stroke="#aaa" stroke-width="0.9" />
<text x="439.59999999999997" y="204.6" font-size="6.2" font-weight="bold" text-anchor="middle" fill="#1a1a1a" stroke="#111" stroke-width="0.4">-10</text>
<line x1="465.4" y1="193.6" x2="465.4" y2="195.6" stroke="#aaa" stroke-width="0.9" />
<text x="465.4" y="204.6" font-size="6.2" font-weight="bold" text-anchor="middle" fill="#1a1a1a" stroke="#111" stroke-width="0.4">0</text>
<line x1="490.59999999999997" y1="193.6" x2="490.59999999999997" y2="195.6" stroke="#aaa" stroke-width="0.9" />
<text x="490.59999999999997" y="204.6" font-size="6.2" font-weight="bold" text-anchor="middle" fill="#1a1a1a" stroke="#111" stroke-width="0.4">10</text>
<line x1="515.8" y1="193.6" x2="515.8" y2="195.6" stroke="#aaa" stroke-width="0.9" />
<text x="515.8" y="204.6" font-size="6.2" font-weight="bold" text-anchor="middle" fill="#1a1a1a" stroke="#111" stroke-width="0.4">20</text>
<text x="473.3" y="18.8" font-size="7.4" font-weight="bold" text-anchor="start" fill="#111" stroke="#111" stroke-width="0.4" textLength="25.8" lengthAdjust="spacingAndGlyphs"><tspan font-weight="normal" stroke-width="0.1">γ</tspan>-globin</text>
<text x="473.1" y="51.7" font-size="7.4" font-weight="bold" text-anchor="start" fill="#111" stroke="#111" stroke-width="0.4" textLength="18.4" lengthAdjust="spacingAndGlyphs">CD36</text>
<text x="437.6" y="83.7" font-size="7.4" font-weight="bold" text-anchor="start" fill="#111" stroke="#111" stroke-width="0.4" textLength="16.6" lengthAdjust="spacingAndGlyphs">hla-a</text>
<text x="431.2" y="115.7" font-size="7.4" font-weight="bold" text-anchor="start" fill="#111" stroke="#111" stroke-width="0.4" textLength="21.7" lengthAdjust="spacingAndGlyphs">CD133</text>
<text x="428.9" y="147.8" font-size="7.4" font-weight="bold" text-anchor="start" fill="#111" stroke="#111" stroke-width="0.4" textLength="29.4" lengthAdjust="spacingAndGlyphs">ubiquitin</text>
<text x="437.1" y="180.6" font-size="7.4" font-weight="bold" text-anchor="start" fill="#111" stroke="#111" stroke-width="0.4" textLength="19.6" lengthAdjust="spacingAndGlyphs">gapdh</text>
<text x="412.2" y="225.6" font-size="7.3" font-weight="bold" text-anchor="start" fill="#111" stroke="#111" stroke-width="0.4" textLength="102.2" lengthAdjust="spacingAndGlyphs">Fold differential expression in:</text>
<text x="449.8" y="233.7" font-size="7.3" font-weight="bold" text-anchor="start" fill="#111" stroke="#111" stroke-width="0.4" textLength="12.7" lengthAdjust="spacingAndGlyphs">FDF</text>
<line x1="467.0" y1="227.8" x2="467.0" y2="234.3" stroke="#999" stroke-width="1.6" />
<text x="473.5" y="233.6" font-size="7.3" font-weight="bold" text-anchor="start" fill="#111" stroke="#111" stroke-width="0.4" textLength="13.0" lengthAdjust="spacingAndGlyphs">SDF</text>
<rect x="411.8" y="240.3" width="6.2" height="6.2" fill="#929292" stroke="#555" stroke-width="0.9"/>
<text x="422.5" y="246.1" font-size="7.3" font-weight="bold" text-anchor="start" fill="#111" stroke="#111" stroke-width="0.4" textLength="26.5" lengthAdjust="spacingAndGlyphs">RT-PCR</text>
<rect x="411.8" y="252.8" width="6.2" height="6.2" fill="#fff" stroke="#666" stroke-width="0.9"/>
<text x="422.5" y="258.0" font-size="7.3" font-weight="bold" text-anchor="start" fill="#111" stroke="#111" stroke-width="0.4" textLength="36.4" lengthAdjust="spacingAndGlyphs">Microarray</text>
</g>
</svg>
</body></html>
